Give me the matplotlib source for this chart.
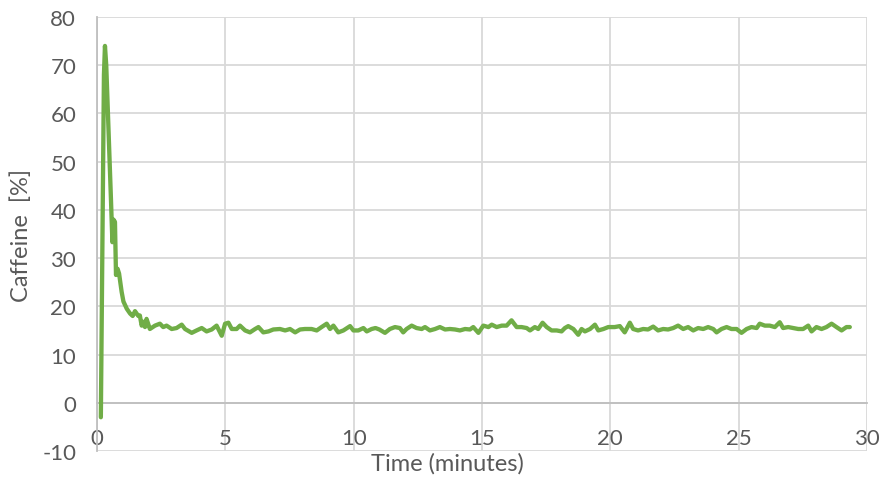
import matplotlib
matplotlib.use("Agg")
import matplotlib.pyplot as plt

# Caffeine signal over time
time_min = [
    0.15, 0.27, 0.31, 0.36, 0.48, 0.545, 0.60, 0.64, 0.70, 0.74, 0.80, 0.86,
    0.96, 1.03, 1.16, 1.29, 1.39, 1.48, 1.61, 1.67, 1.74, 1.80, 1.87, 1.93,
    2.06, 2.26, 2.45, 2.58, 2.71, 2.91, 3.10, 3.30, 3.43, 3.69, 3.88, 4.08,
    4.27, 4.47, 4.66, 4.86, 4.99, 5.12, 5.25, 5.44, 5.57, 5.77, 5.96, 6.16,
    6.29, 6.48, 6.68, 6.87, 7.13, 7.33, 7.52, 7.72, 7.91, 8.10, 8.36, 8.56,
    8.75, 8.95, 9.08, 9.21, 9.40, 9.60, 9.86, 9.99, 10.18, 10.38, 10.51, 10.70,
    10.85, 11.00, 11.22, 11.41, 11.61, 11.80, 11.93, 12.06, 12.26, 12.45, 12.65, 12.78,
    12.97, 13.17, 13.36, 13.56, 13.75, 13.95, 14.14, 14.34, 14.53, 14.66, 14.86, 15.05,
    15.25, 15.38, 15.57, 15.77, 15.96, 16.15, 16.35, 16.54, 16.74, 16.87, 17.06, 17.19,
    17.36, 17.52, 17.71, 17.91, 18.10, 18.23, 18.36, 18.56, 18.75, 18.88, 19.01, 19.21,
    19.40, 19.53, 19.73, 19.92, 20.17, 20.37, 20.56, 20.76, 20.89, 21.08, 21.28, 21.47,
    21.67, 21.86, 22.06, 22.25, 22.45, 22.64, 22.84, 23.03, 23.23, 23.42, 23.62, 23.81,
    24.01, 24.14, 24.33, 24.53, 24.72, 24.92, 25.11, 25.31, 25.50, 25.70, 25.82, 26.02,
    26.21, 26.41, 26.60, 26.73, 26.93, 27.12, 27.32, 27.51, 27.71, 27.84, 28.03, 28.23,
    28.42, 28.62, 28.81, 29.01, 29.20, 29.33,
]
caffeine_pct = [
    -3.0, 68.0, 74.0, 70.0, 52.0, 42.0, 33.3, 38.0, 37.5, 26.5, 27.8, 26.8,
    23.0, 21.0, 19.5, 18.5, 18.0, 19.0, 18.0, 18.1, 16.0, 16.8, 15.7, 17.4,
    15.3, 16.0, 16.4, 15.7, 16.0, 15.3, 15.5, 16.2, 15.3, 14.5, 15.0, 15.5,
    14.8, 15.2, 16.0, 13.9, 16.4, 16.6, 15.3, 15.3, 16.0, 15.0, 14.6, 15.3,
    15.7, 14.6, 14.8, 15.2, 15.3, 15.0, 15.3, 14.6, 15.2, 15.3, 15.3, 15.0,
    15.7, 16.4, 15.3, 16.0, 14.6, 15.0, 15.9, 15.0, 15.0, 15.5, 14.8, 15.3,
    15.5, 15.2, 14.5, 15.3, 15.7, 15.5, 14.6, 15.3, 16.0, 15.5, 15.3, 15.7,
    15.0, 15.3, 15.7, 15.2, 15.3, 15.2, 15.0, 15.3, 15.2, 15.7, 14.5, 16.0,
    15.7, 16.2, 15.7, 16.0, 16.0, 17.1, 15.7, 15.7, 15.5, 15.0, 15.7, 15.3,
    16.6, 15.7, 15.0, 15.0, 14.8, 15.5, 15.9, 15.3, 14.1, 15.3, 14.8, 15.3,
    16.2, 15.0, 15.3, 15.7, 15.7, 15.9, 14.6, 16.6, 15.3, 15.0, 15.3, 15.2,
    15.8, 15.0, 15.3, 15.2, 15.5, 16.0, 15.3, 15.7, 15.0, 15.5, 15.3, 15.7,
    15.3, 14.6, 15.3, 15.7, 15.3, 15.3, 14.5, 15.3, 15.7, 15.5, 16.4, 16.0,
    16.0, 15.7, 16.7, 15.5, 15.7, 15.5, 15.3, 15.3, 16.0, 14.8, 15.7, 15.3,
    15.7, 16.4, 15.7, 15.0, 15.7, 15.7,
]

x_ticks = [0, 5, 10, 15, 20, 25, 30]
y_ticks = [-10, 0, 10, 20, 30, 40, 50, 60, 70, 80]

plt.rcParams['font.family'] = ['Lato', 'DejaVu Sans']
plt.rcParams['axes.unicode_minus'] = False

fig = plt.figure(figsize=(8.84, 4.81), dpi=100)
ax = fig.add_axes([97 / 884, 1 - 452 / 481, 770 / 884, 434 / 481])

grid_col = '#D9D9D9'
axis_col = '#BFBFBF'
text_col = '#595959'

ax.plot(time_min, caffeine_pct, color='#70AD47', lw=3.1, solid_joinstyle='round',
        solid_capstyle='round', zorder=3)

ax.set_xlim(0, 30)
ax.set_ylim(-10, 80)
ax.set_xticks(x_ticks)
ax.set_yticks(y_ticks)
ax.grid(True, color=grid_col, lw=1.3, zorder=0)
ax.set_axisbelow(True)

for side in ('top', 'right'):
    ax.spines[side].set_visible(False)
ax.spines['bottom'].set_position(('data', 0))
ax.spines['left'].set_position(('data', 0))
ax.spines['bottom'].set_color(axis_col)
ax.spines['left'].set_color(axis_col)
ax.spines['bottom'].set_linewidth(1.3)
ax.spines['left'].set_linewidth(1.3)

ax.tick_params(axis='both', length=0, labelsize=16, labelcolor=text_col)
ax.tick_params(axis='x', pad=18)
ax.tick_params(axis='y', pad=15)

ax.set_xlabel('Time (minutes)', fontsize=17, color=text_col, va='center')
ax.xaxis.set_label_coords(0.4545, -0.027)
ax.set_ylabel('Caffeine  [%]', fontsize=17, color=text_col, va='center')
ax.yaxis.set_label_coords(-0.099, 0.5)

fig.savefig('out.png', dpi=100)
